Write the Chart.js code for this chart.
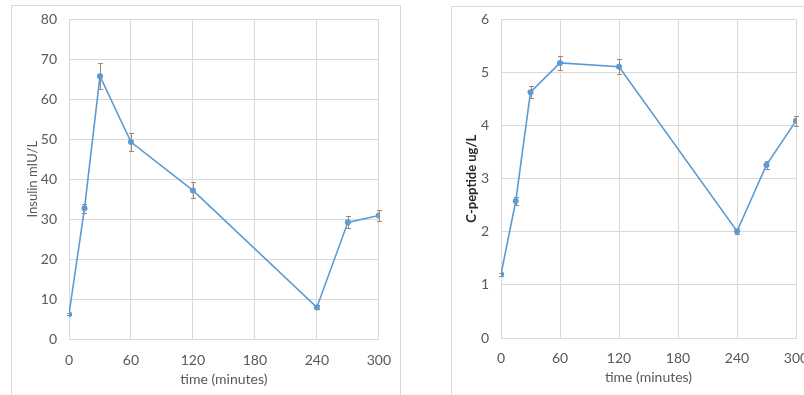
<!DOCTYPE html>
<html>
<head>
<meta charset="utf-8">
<script src="https://cdn.jsdelivr.net/npm/chart.js"></script>
<style>
  html, body { margin: 0; padding: 0; background: #fff; overflow: hidden; }
  body { width: 804px; height: 395px; position: relative; }
  .box { position: absolute; border: 1px solid #d9d9d9; background: #fff; }
  #boxL { left: 11px; top: 5px; width: 388px; height: 400px; }
  #boxR { left: 451px; top: 6px; width: 400px; height: 400px; }
  canvas { position: absolute; left: 0; }
  #insulinChart { top: -7px; }
  #cpepChart { top: -8px; }
</style>
</head>
<body>
<div class="box" id="boxL"><canvas id="insulinChart" width="392" height="396"></canvas></div>
<div class="box" id="boxR"><canvas id="cpepChart" width="372" height="395"></canvas></div>
<script>
// sampling times (minutes)
const times = [0, 15, 30, 60, 120, 240, 270, 300];

// insulin mIU/L, mean and error
const insulin = [6.2, 32.7, 65.8, 49.3, 37.2, 7.9, 29.2, 30.9];
const insulinErr = [0.3, 1.2, 3.2, 2.3, 2.0, 0.5, 1.5, 1.3];

// C-peptide ug/L, mean and error
const cpeptide = [1.2, 2.58, 4.63, 5.18, 5.11, 2.01, 3.26, 4.09];
const cpeptideErr = [0.03, 0.07, 0.11, 0.13, 0.14, 0.05, 0.08, 0.1];

const xTicks = [0, 60, 120, 180, 240, 300];

const lineBlue = '#5b9bd5';
const gridGrey = '#d9d9d9';
const textGrey = '#595959';
const errColor = '#a8856c';
const fontFam = 'Lato, "Liberation Sans", sans-serif';

// draws vertical error bars with small caps, under the markers
const errorBars = {
  id: 'errorBars',
  beforeDatasetsDraw(chart, args, opts) {
    const { ctx, scales: { x, y } } = chart;
    const errs = opts.errs || [];
    const vals = chart.data.datasets[0].data;
    ctx.save();
    ctx.strokeStyle = errColor;
    ctx.lineWidth = 1;
    vals.forEach((p, i) => {
      const px = Math.round(x.getPixelForValue(p.x)) + 0.5;
      const top = Math.round(y.getPixelForValue(p.y + errs[i])) + 0.5;
      const bot = Math.round(y.getPixelForValue(p.y - errs[i])) + 0.5;
      ctx.beginPath();
      ctx.moveTo(px, top);
      ctx.lineTo(px, bot);
      ctx.moveTo(px - 2.5, top);
      ctx.lineTo(px + 2.5, top);
      ctx.moveTo(px - 2.5, bot);
      ctx.lineTo(px + 2.5, bot);
      ctx.stroke();
    });
    ctx.restore();
  }
};

function makeChart(id, values, errs, yMax, yStep, yTitle, bold, geo) {
  return new Chart(document.getElementById(id), {
    type: 'scatter',
    data: {
      datasets: [{
        data: times.map((t, i) => ({ x: t, y: values[i] })),
        showLine: true,
        borderColor: lineBlue,
        backgroundColor: lineBlue,
        borderWidth: 1.6,
        pointRadius: 3,
        pointBorderWidth: 0
      }]
    },
    options: {
      responsive: false,
      animation: false,
      layout: { padding: { left: 0, right: geo.right, top: geo.top, bottom: 0 } },
      plugins: {
        legend: { display: false },
        tooltip: { enabled: false },
        errorBars: { errs: errs }
      },
      scales: {
        x: {
          type: 'linear',
          min: 0,
          max: 300,
          afterBuildTicks: axis => { axis.ticks = xTicks.map(v => ({ value: v })); },
          grid: { color: gridGrey, drawTicks: false },
          border: { color: gridGrey },
          ticks: { color: textGrey, font: { family: fontFam, size: 14 }, padding: geo.tickPad, maxRotation: 0 },
          title: { display: true, text: 'time (minutes)', color: textGrey, font: { family: fontFam, size: 14 }, padding: { top: 1, bottom: geo.titleBottom } },
          afterFit: axis => { axis.height = geo.xh; }
        },
        y: {
          min: 0,
          max: yMax,
          ticks: { stepSize: yStep, color: textGrey, font: { family: fontFam, size: 14 }, padding: 12 },
          grid: { color: gridGrey, drawTicks: false },
          border: { color: gridGrey },
          title: {
            display: true, text: yTitle, color: bold ? '#262626' : textGrey,
            font: { family: fontFam, size: 13, weight: bold ? 'bold' : 'normal' },
            padding: { top: geo.yTitlePad, bottom: 0 }
          },
          afterFit: axis => { axis.width = geo.yw; }
        }
      }
    },
    plugins: [errorBars]
  });
}

makeChart('insulinChart', insulin, insulinErr, 80, 10, 'Insulin mIU/L', false,
  { right: 15, top: 8, xh: 56, yw: 57, tickPad: 13, titleBottom: 7, yTitlePad: 13 });
makeChart('cpepChart', cpeptide, cpeptideErr, 6, 1, 'C-peptide ug/L', true,
  { right: 28, top: 6, xh: 56, yw: 49, tickPad: 12, titleBottom: 8, yTitlePad: 12 });
</script>
</body>
</html>
